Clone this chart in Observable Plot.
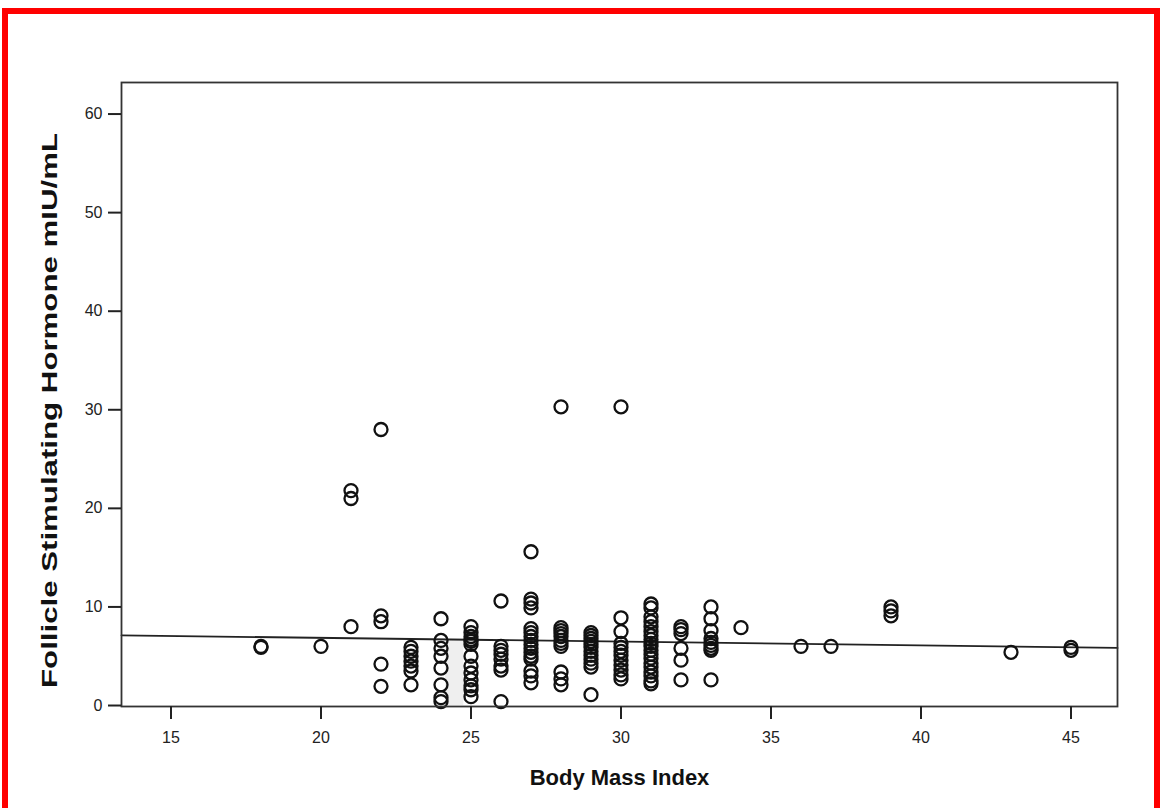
<!DOCTYPE html>
<html>
<head>
<meta charset="utf-8">
<script src="https://cdn.jsdelivr.net/npm/d3@7"></script>
<script src="https://cdn.jsdelivr.net/npm/@observablehq/plot@0.6"></script>
<style>
  html, body { margin: 0; padding: 0; background: #fff; }
  #wrap { position: relative; width: 1161px; height: 808px; overflow: hidden; }
  #border { position: absolute; left: 2px; top: 8px; right: 1px; height: 900px;
            border: 6px solid #ff0000; border-bottom: none; box-sizing: border-box; }
  #chart { position: absolute; left: 0; top: 0; }
  #chart svg [aria-label="y-axis label"], #chart svg [aria-label="x-axis label"] {
    font-size: 22px; font-weight: bold; fill: #111;
  }
</style>
</head>
<body>
<div id="wrap"><div id="border"></div><div id="chart"></div></div>
<script>
// Body Mass Index columns and the FSH values (mIU/mL) read at each column
const bmiLevels = [18, 20, 21, 22, 23, 24, 25, 26, 27, 28, 29, 30, 31, 32, 33, 34, 36, 37, 39, 43, 45];
const fshLevels = [
  [5.9, 6.0],
  [6.0],
  [21.8, 21.0, 8.0],
  [28.0, 9.1, 8.5, 4.2, 1.95],
  [5.9, 5.5, 5.0, 4.5, 4.0, 3.5, 2.1],
  [8.8, 6.6, 5.8, 5.0, 3.8, 2.1, 0.8, 0.4],
  [8.0, 7.4, 7.0, 6.7, 6.5, 6.2, 5.0, 4.0, 3.3, 2.6, 2.0, 1.6, 0.9],
  [10.6, 6.0, 5.6, 5.2, 4.7, 4.0, 3.6, 0.4],
  [15.6, 10.8, 10.4, 9.9, 7.8, 7.4, 7.0, 6.6, 6.2, 5.8, 5.4, 5.0, 4.7, 3.5, 3.0, 2.3],
  [30.3, 7.9, 7.6, 7.3, 7.0, 6.6, 6.3, 6.0, 3.4, 2.7, 2.1],
  [7.4, 7.1, 6.8, 6.5, 6.2, 5.9, 5.5, 5.1, 4.7, 4.3, 3.9, 1.1],
  [30.3, 8.9, 7.5, 6.3, 5.9, 5.5, 5.1, 4.6, 4.1, 3.6, 3.1, 2.7],
  [10.3, 9.9, 9.0, 8.5, 8.0, 7.5, 7.1, 6.7, 6.3, 6.0, 5.6, 5.2, 4.8, 4.3, 3.9, 3.4, 3.0, 2.5, 2.2],
  [8.0, 7.7, 7.3, 5.8, 4.6, 2.6],
  [10.0, 8.8, 7.6, 6.8, 6.4, 6.1, 5.8, 5.6, 2.6],
  [7.9],
  [6.0],
  [6.0],
  [10.0, 9.6, 9.1],
  [5.4],
  [5.6, 5.9]
];
// fit line end points (BMI, FSH)
const fitBmi = [13.35, 46.55];
const fshFit = [7.12, 5.84];
// light shaded band at BMI ≈ 24.2–24.8
const shadeBmi = [24.15, 24.76];
const shadeFsh = [0, 6.6];
const xTicks = [15, 20, 25, 30, 35, 40, 45];
const yTicks = [0, 10, 20, 30, 40, 50, 60];
const xDomain = [13.35, 46.55];
const yDomain = [-0.1, 63.2];

const points = bmiLevels.flatMap((b, i) => fshLevels[i].map(v => ({bmi: b, fsh: v})));
const fit = fitBmi.map((b, i) => ({bmi: b, fsh: fshFit[i]}));
const shade = [{x1: shadeBmi[0], x2: shadeBmi[1], y1: shadeFsh[0], y2: shadeFsh[1]}];

const chart = Plot.plot({
  width: 1161,
  height: 808,
  marginLeft: 121,
  marginRight: 44,
  marginTop: 82,
  marginBottom: 102,
  style: {fontFamily: "'Liberation Sans', Arial, sans-serif", fontSize: "15px", color: "#222", background: "transparent"},
  x: {domain: xDomain},
  y: {domain: yDomain},
  marks: [
    Plot.rect(shade, {x1: "x1", x2: "x2", y1: "y1", y2: "y2", fill: "#efefef"}),
    Plot.line(fit, {x: "bmi", y: "fsh", stroke: "#222", strokeWidth: 1.8}),
    Plot.dot(points, {x: "bmi", y: "fsh", r: 6.5, stroke: "#111", strokeWidth: 2.3, fill: "none"}),
    Plot.frame({stroke: "#333", strokeWidth: 1.8}),
    Plot.axisX({ticks: xTicks, tickSize: 13, tickPadding: 12, strokeWidth: 2, fontSize: 16,
      label: "Body Mass Index", labelAnchor: "center", labelOffset: 78, labelArrow: "none"}),
    Plot.axisY({ticks: yTicks, tickSize: 13, tickPadding: 6, strokeWidth: 2, fontSize: 16,
      label: "Follicle Stimulating Hormone mIU/mL", labelAnchor: "center", labelOffset: 80, labelArrow: "none"})
  ]
});
document.getElementById("chart").appendChild(chart);
// the reference's y title is stretched along its length and sits a little low
const yl = chart.querySelector('[aria-label="y-axis label"] text');
if (yl) {
  yl.setAttribute("textLength", 555);
  yl.setAttribute("lengthAdjust", "spacingAndGlyphs");
  yl.setAttribute("dx", -16);
}
</script>
</body>
</html>
